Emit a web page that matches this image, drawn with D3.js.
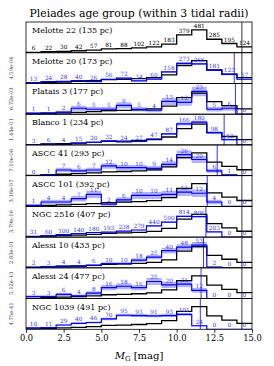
<!DOCTYPE html>
<html>
<head>
<meta charset="utf-8">
<script src="https://cdnjs.cloudflare.com/ajax/libs/d3/7.8.5/d3.min.js"></script>
<style>
  body { margin: 0; background: #fff; }
  svg { display: block; }
</style>
</head>
<body>
<script>
"use strict";

// histogram bin edges in M_G (1 mag bins)
var edges = [0, 1, 2, 3, 4, 5, 6, 7, 8, 9, 10, 11, 12, 13, 14, 15];
var xTicks = [0, 2.5, 5, 7.5, 10, 12.5, 15];

var clusters = ["Melotte 22", "Melotte 20", "Platais 3", "Blanco 1", "ASCC 41",
  "ASCC 101", "NGC 2516", "Alessi 10", "Alessi 24", "NGC 1039"];
var distances = [135, 173, 177, 234, 293, 392, 407, 433, 477, 491];
var pValues = [null, "4.59e-04", "6.72e-03", "1.44e-01", "7.10e-06", "3.18e-07",
  "3.79e-16", "2.83e-01", "5.12e-13", "4.75e-41"];

// member counts per bin (panel 0 is the Pleiades itself)
var counts = [
  [6, 22, 30, 42, 57, 81, 88, 102, 122, 183, 379, 481, 285, 195, 124],
  [13, 24, 28, 40, 26, 56, 72, 34, 60, 158, 273, 266, 181, 123, 57],
  [1, 1, 2, 6, 5, 5, 9, 5, 4, 13, 12, 23, 5, 6, 0],
  [3, 6, 4, 15, 20, 32, 24, 27, 47, 87, 166, 180, 98, 42, 0],
  [0, 1, 7, 6, 7, 12, 10, 10, 9, 14, 26, 20, 6, 1, 0],
  [1, 4, 4, 7, 11, 2, 6, 10, 10, 11, 13, 12, 4, 0, 0],
  [31, 60, 100, 140, 180, 193, 238, 279, 440, 590, 814, 806, 203, 0, 0],
  [2, 3, 4, 4, 6, 10, 10, 18, 25, 40, 48, 53, 2, 0, 0],
  [3, 3, 6, 4, 8, 16, 18, 16, 25, 20, 21, 12, 0, 0, 0],
  [10, 11, 29, 40, 46, 70, 95, 93, 91, 93, 101, 24, 0, 0, 0]
];

// Pleiades reference histogram as drawn in each panel (black line)
var reference = [
  [6, 22, 30, 42, 57, 81, 88, 102, 122, 183, 379, 481, 285, 195, 124],
  [3.9, 14.1, 19.3, 27.0, 36.6, 52.0, 56.5, 65.5, 78.3, 117.5, 243.4, 308.9, 183.0, 125.2, 79.6],
  [0.26, 0.97, 1.32, 1.85, 2.52, 3.58, 3.89, 4.50, 5.39, 8.08, 16.7, 21.2, 12.6, 8.61, 5.47],
  [2.05, 7.52, 10.3, 14.4, 19.5, 27.7, 30.1, 34.9, 41.7, 62.6, 129.5, 164.4, 97.4, 66.7, 42.4],
  [0.35, 1.29, 1.76, 2.47, 3.35, 4.76, 5.17, 5.99, 7.16, 10.8, 22.3, 28.2, 16.7, 11.5, 7.28],
  [0.26, 0.95, 1.30, 1.82, 2.46, 3.50, 3.81, 4.41, 5.28, 7.91, 16.4, 20.8, 12.3, 8.43, 5.36],
  [11.1, 40.8, 55.6, 77.9, 105.7, 150.2, 163.2, 189.1, 226.2, 339.3, 702.8, 891.9, 528.5, 361.6, 229.9],
  [0.61, 2.25, 3.07, 4.30, 5.84, 8.30, 9.01, 10.5, 12.5, 18.7, 38.8, 49.3, 29.2, 20.0, 12.7],
  [0.42, 1.52, 2.08, 2.91, 3.94, 5.60, 6.09, 7.06, 8.44, 12.7, 26.2, 33.3, 19.7, 13.5, 8.58],
  [1.92, 7.04, 9.60, 13.4, 18.2, 25.9, 28.2, 32.6, 39.0, 58.6, 121.3, 153.9, 91.2, 62.4, 39.7]
];

// completeness limits (blue per cluster, black for the Pleiades)
var limits = [null, 13.82, 13.9, 13.15, 12.69, 12.03, 11.94, 11.78, 11.62, 11.57];
var refLimit = 14.33;

(function (root) {
  var width = 274, height = 366,
    left = 26, right = 252, top = 22, bottom = 329.3,
    font = "DejaVu Serif",
    blue = "#0000ff",
    labelBlue = "#3a3aff",
    panelH = (bottom - top) / clusters.length,
    x, svg, g;

  svg = d3.select("body").append("svg")
    .attr("width", width)
    .attr("height", height)
    .attr("font-family", font);

  x = d3.scaleLinear().domain([0, 15]).range([left, right]);

  svg.append("defs").selectAll("clipPath").data(clusters).enter()
    .append("clipPath")
    .attr("id", function (d, i) { return "clip" + i; })
    .append("rect")
    .attr("x", left)
    .attr("y", function (d, i) { return top + i * panelH; })
    .attr("width", right - left)
    .attr("height", panelH);

  svg.append("text")
    .attr("x", (left + right) / 2)
    .attr("y", 17)
    .attr("text-anchor", "middle")
    .attr("font-size", 10.6)
    .attr("textLength", 219)
    .attr("lengthAdjust", "spacingAndGlyphs")
    .text("Pleiades age group (within 3 tidal radii)");

  clusters.forEach(function (name, i) {
    var y0 = top + i * panelH,
      vals = counts[i],
      ref = reference[i],
      y = d3.scaleLinear()
        .domain([0, 1.35 * Math.max(d3.max(vals), d3.max(ref))])
        .range([y0 + panelH, y0]),
      pts = function (v) {
        return edges.map(function (e, k) { return [e, v[Math.min(k, v.length - 1)]]; });
      },
      line = d3.line()
        .x(function (d) { return x(d[0]); })
        .y(function (d) { return y(d[1]); })
        .curve(d3.curveStepAfter),
      band = d3.area()
        .x(function (d) { return x(d[0]); })
        .y0(function (d) { return y(d[1] - Math.sqrt(d[1])); })
        .y1(function (d) { return y(d[1] + Math.sqrt(d[1])); })
        .curve(d3.curveStepAfter),
      isRef = i === 0,
      col = isRef ? "#000" : labelBlue;

    g = svg.append("g").attr("clip-path", "url(#clip" + i + ")");

    if (!isRef) {
      g.append("path")
        .attr("d", band(pts(vals)))
        .attr("fill", blue)
        .attr("fill-opacity", 0.3);
    }

    g.append("path")
      .attr("d", line(pts(ref)))
      .attr("fill", "none")
      .attr("stroke", "#000")
      .attr("stroke-width", 1.3);

    if (!isRef) {
      g.append("path")
        .attr("d", line(pts(vals)))
        .attr("fill", "none")
        .attr("stroke", blue)
        .attr("stroke-width", 1.2);
    }

    g.append("line")
      .attr("x1", x(refLimit)).attr("x2", x(refLimit))
      .attr("y1", y0).attr("y2", y0 + panelH)
      .attr("stroke", "#000")
      .attr("stroke-width", 0.8);

    if (limits[i] !== null) {
      g.append("line")
        .attr("x1", x(limits[i])).attr("x2", x(limits[i]))
        .attr("y1", y0).attr("y2", y0 + panelH)
        .attr("stroke", blue)
        .attr("stroke-width", 0.8);
    }

    svg.append("g").selectAll("text").data(vals).enter()
      .append("text")
      .attr("x", function (d, k) { return x(edges[k] + 0.5); })
      .attr("y", function (d) { return y(d) - 2; })
      .attr("text-anchor", "middle")
      .attr("font-size", 5.8)
      .attr("fill", col)
      .text(function (d) { return d; });

    svg.append("text")
      .attr("x", 32)
      .attr("y", y0 + 11)
      .attr("font-size", 8)
      .text(name + " (" + distances[i] + " pc)");

    if (pValues[i] !== null) {
      svg.append("text")
        .attr("transform", "translate(13," + (y0 + panelH / 2) + ") rotate(-90)")
        .attr("text-anchor", "middle")
        .attr("font-size", 5.2)
        .attr("fill", "#333")
        .text(pValues[i]);
    }

    svg.append("rect")
      .attr("x", left)
      .attr("y", y0)
      .attr("width", right - left)
      .attr("height", panelH)
      .attr("fill", "none")
      .attr("stroke", "#000")
      .attr("stroke-width", 0.8);
  });

  svg.append("g")
    .attr("transform", "translate(0," + bottom + ")")
    .call(d3.axisBottom(x).tickValues(xTicks).tickFormat(d3.format(".1f"))
      .tickSize(3.5).tickPadding(2))
    .call(function (a) {
      a.attr("font-family", font);
      a.select(".domain").remove();
      a.selectAll("line").attr("stroke-width", 0.8);
      a.selectAll("text").attr("font-size", 8.3);
    });

  svg.append("text")
    .attr("x", (left + right) / 2)
    .attr("y", 359)
    .attr("text-anchor", "middle")
    .attr("font-size", 10)
    .call(function (t) {
      t.append("tspan").attr("font-style", "italic").text("M");
      t.append("tspan").attr("font-size", 7).attr("dy", 2).text("G");
      t.append("tspan").attr("dy", -2).text(" [mag]");
    });
}(this));
</script>
</body>
</html>
